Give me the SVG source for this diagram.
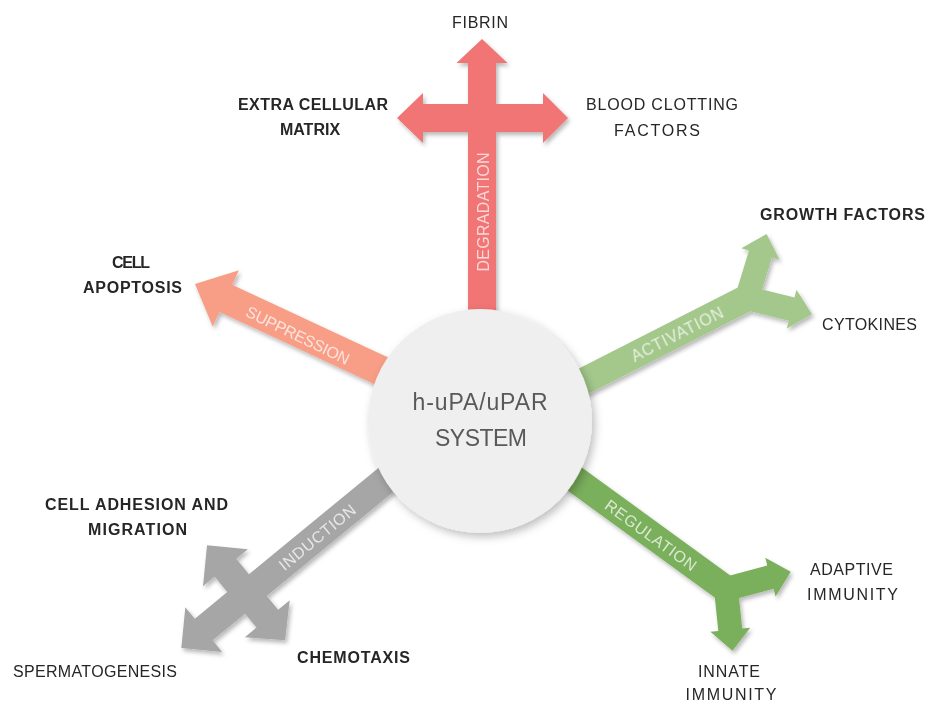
<svg xmlns="http://www.w3.org/2000/svg" width="927" height="702" viewBox="0 0 927 702">
<defs>
<filter id="sh" x="-20%" y="-20%" width="140%" height="140%">
<feDropShadow dx="2" dy="3" stdDeviation="2" flood-color="#000" flood-opacity="0.28"/>
</filter>
<filter id="shc" x="-20%" y="-20%" width="140%" height="140%">
<feDropShadow dx="3" dy="4" stdDeviation="4" flood-color="#000" flood-opacity="0.25"/>
</filter>
</defs>
<style>
.lbl{font-family:"Liberation Sans",Arial,sans-serif;font-size:16px;fill:#262626;text-anchor:middle}
.b{font-weight:bold}
.in{font-family:"Liberation Sans",Arial,sans-serif;font-size:16px;fill:#ffffff;fill-opacity:0.72;text-anchor:middle}
.deg{fill:#F17474}
.sup{fill:#F89E86}
.act{fill:#A4C88C}
.reg{fill:#7AAF5C}
.ind{fill:#A6A6A6}
.ctr{font-family:"Liberation Sans",Arial,sans-serif;font-size:23px;fill:#595959;text-anchor:middle}
</style>
<rect width="927" height="702" fill="#ffffff"/>
<g id="connectors">
<g id="arrow-degradation" filter="url(#sh)">
<rect class="deg" x="468" y="126" width="28" height="204"/>
<polygon class="deg" points="482,39 507.5,63 496,63 496,104 543,104 543,93 568,118 543,143 543,132 468,132 423,132 423,143 397,118 423,93 423,104 468,104 468,63 456.5,63"/>
<text class="in" transform="translate(483,212) rotate(-90)" y="6" textLength="119">DEGRADATION</text>
</g>
<g id="arrow-suppression" filter="url(#sh)">
<polygon class="sup" transform="translate(195,284) rotate(25)" points="0,0 34,-31 34,-15 250,-15 250,15 34,15 34,31"/>
<text class="in" transform="translate(298,335) rotate(26)" y="6" textLength="113">SUPPRESSION</text>
</g>
<g id="arrow-activation" filter="url(#sh)">
<rect class="act" transform="translate(747,298) rotate(-27)" x="-200" y="-13.5" width="201" height="27"/>
<polygon class="act" transform="translate(747,298) rotate(-73)" points="-6,-12 46,-12 46,-20 67,0 46,20 46,12 -6,12"/>
<polygon class="act" transform="translate(747,298) rotate(14)" points="-6,-12 46,-12 46,-20 67,0 46,20 46,12 -6,12"/>
<text class="in" transform="translate(677,334) rotate(-27)" y="6" textLength="101">ACTIVATION</text>
</g>
<g id="arrow-regulation" filter="url(#sh)">
<rect class="reg" transform="translate(726,589) rotate(36)" x="-200" y="-13.5" width="201" height="27"/>
<polygon class="reg" transform="translate(726,589) rotate(-15)" points="-6,-12 46,-12 46,-20 67,0 46,20 46,12 -6,12"/>
<polygon class="reg" transform="translate(726,589) rotate(84)" points="-6,-12 41,-12 41,-20 62,0 41,20 41,12 -6,12"/>
<text class="in" transform="translate(651,535) rotate(36)" y="6" textLength="109">REGULATION</text>
</g>
<g id="arrow-induction" filter="url(#sh)">
<polygon class="ind" transform="translate(247,594) rotate(140.6)" points="-230,14 -14,14 -14,34 -29,34 0,63 29,34 14,34 14,14 56,14 56,29 85,0 56,-29 56,-14 14,-14 14,-32 29,-32 0,-60 -29,-32 -14,-32 -14,-14 -230,-14"/>
<text class="in" transform="translate(317,537) rotate(-39.4)" y="6" textLength="94">INDUCTION</text>
</g>
</g>
<g id="node-center">
<circle cx="480" cy="421" r="112" fill="#EFEFEF" filter="url(#shc)"/>
<text class="ctr" x="480" y="410" textLength="135">h-uPA/uPAR</text>
<text class="ctr" x="481" y="446" textLength="92">SYSTEM</text>
</g>
<g id="node-fibrin"><text class="lbl" x="480" y="28" textLength="56">FIBRIN</text></g>
<g id="node-ecm">
<text class="lbl b" x="313" y="110" textLength="150">EXTRA CELLULAR</text>
<text class="lbl b" x="310" y="135">MATRIX</text>
</g>
<g id="node-blood">
<text class="lbl" x="662" y="110" textLength="152">BLOOD CLOTTING</text>
<text class="lbl" x="657" y="136" textLength="86">FACTORS</text>
</g>
<g id="node-growth"><text class="lbl b" x="842.5" y="220" textLength="165">GROWTH FACTORS</text></g>
<g id="node-cytokines"><text class="lbl" x="869.5" y="330" textLength="95">CYTOKINES</text></g>
<g id="node-apoptosis">
<text class="lbl b" x="131" y="268" textLength="38">CELL</text>
<text class="lbl b" x="132.5" y="293" textLength="99">APOPTOSIS</text>
</g>
<g id="node-adhesion">
<text class="lbl b" x="136.5" y="510" textLength="183">CELL ADHESION AND</text>
<text class="lbl b" x="137.5" y="535" textLength="99">MIGRATION</text>
</g>
<g id="node-sperm"><text class="lbl" x="95" y="677" textLength="164">SPERMATOGENESIS</text></g>
<g id="node-chemotaxis"><text class="lbl b" x="353.5" y="663" textLength="113">CHEMOTAXIS</text></g>
<g id="node-adaptive">
<text class="lbl" x="851.5" y="575" textLength="83">ADAPTIVE</text>
<text class="lbl" x="852.5" y="600" textLength="91">IMMUNITY</text>
</g>
<g id="node-innate">
<text class="lbl" x="729" y="677" textLength="62">INNATE</text>
<text class="lbl" x="731" y="700" textLength="91">IMMUNITY</text>
</g>
</svg>
